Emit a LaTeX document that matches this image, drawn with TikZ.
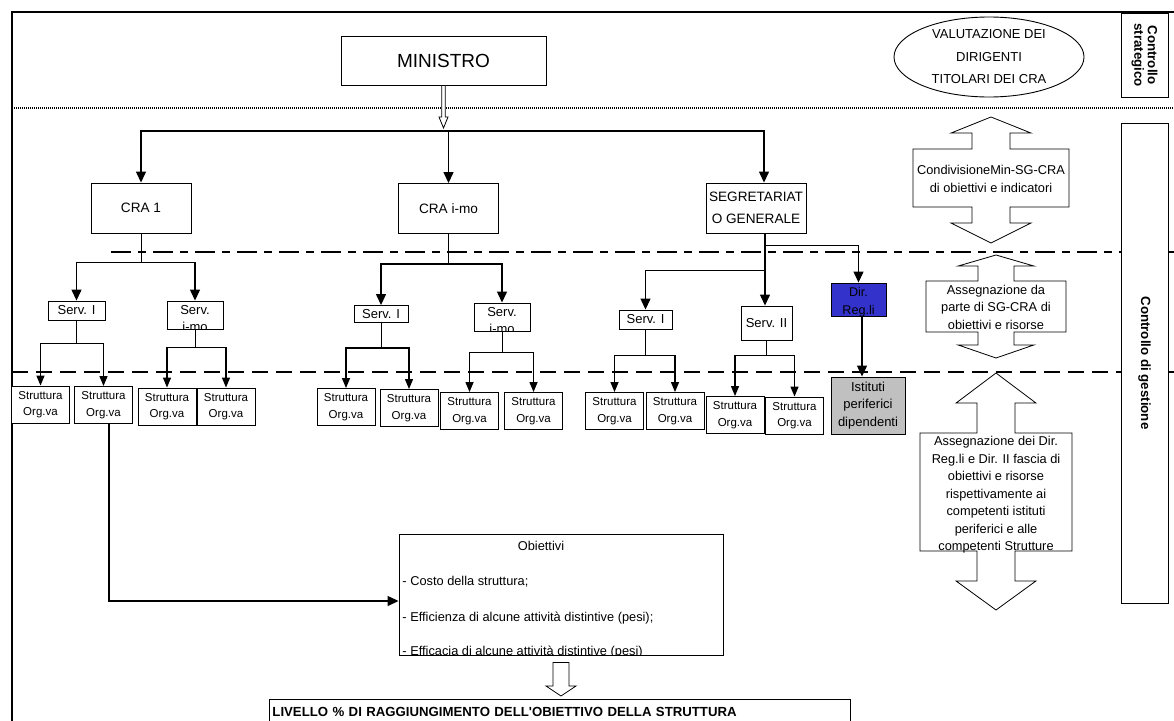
\documentclass[tikz,border=0pt]{standalone}
\usepackage{fontspec}
\setmainfont{Liberation Sans}
\usetikzlibrary{arrows.meta,shapes.geometric,calc}
\definecolor{regblue}{RGB}{51,51,204}
\definecolor{istgray}{RGB}{192,192,192}

\newcommand{\fsz}[2]{\fontsize{#1}{#2}\selectfont}
% hollow arrow pointing down: from, tip, shaft half width, head half width, head length
\newcommand{\hollowdown}[5]{%
  \draw[line width=.8pt,fill=white] let \p1=#1, \p2=#2 in
    (\x1-#3pt,\y1) -- (\x1+#3pt,\y1) -- (\x1+#3pt,\y2+#5pt) -- (\x1+#4pt,\y2+#5pt)
    -- (\x1,\y2) -- (\x1-#4pt,\y2+#5pt) -- (\x1-#3pt,\y2+#5pt) -- cycle;}
% up-down arrow with a box: x, top tip, top wings, box top, box bottom, bottom wings, bottom tip, box half width, shaft half width
\newcommand{\boxarrow}[9]{%
  \draw[line width=.8pt,fill=white]
    (#1,#2) -- ({#1+2.1*#9},#3) -- ({#1+#9},#3) -- ({#1+#9},#4) -- ({#1+#8},#4)
    -- ({#1+#8},#5) -- ({#1+#9},#5) -- ({#1+#9},#6) -- ({#1+2.1*#9},#6) -- (#1,#7)
    -- ({#1-2.1*#9},#6) -- ({#1-#9},#6) -- ({#1-#9},#5) -- ({#1-#8},#5)
    -- ({#1-#8},#4) -- ({#1-#9},#4) -- ({#1-#9},#3) -- ({#1-2.1*#9},#3) -- cycle;}
% truncated text of the Serv. i-mo boxes
\newcommand{\servimo}{%
  \node[cliptext,font=\fsz{13}{16}] at ([yshift=-13.7pt]path picture bounding box.north) {Serv.};
  \node[cliptext,font=\fsz{13}{16}] at ([yshift=-30pt]path picture bounding box.north) {i-mo};}

\begin{document}
\begin{tikzpicture}[x=1pt,y=-1pt,
    box/.style={draw,line width=.9pt,fill=white,inner sep=0pt,align=center},
    cliptext/.style={anchor=base,inner sep=0pt,minimum width=0pt,minimum height=0pt},
    cra/.style={box,minimum width=100pt,minimum height=50pt,font=\fsz{13.6}{21.5}},
    serv/.style={box,font=\fsz{13}{16}},
    strut/.style={box,minimum width=58pt,minimum height=37pt,font=\fsz{11.5}{16.5}},
    arrtext/.style={align=center,font=\fsz{12.8}{17.5}},
    stem/.style={line width=.9pt},
    arr/.style={line width=1.3pt,-{Triangle[length=11pt,width=10pt]}},
    sarr/.style={line width=1.3pt,-{Triangle[length=10pt,width=8pt]}},
    sep/.style={line width=2pt}]
  \useasboundingbox (0,0) rectangle (1174,720);
  \clip (0,0) rectangle (1174,720);

  % frame and separators
  \draw[line width=2.6pt] (12,730) -- (12,12) -- (1180,12);
  \draw[sep,dash pattern=on .8pt off 1.2pt] (12,108) -- (1174,108);
  \draw[sep,dash pattern=on 20pt off 7pt on 8pt off 7pt] (111,252) -- (1174,252);
  \draw[sep,dash pattern=on 16pt off 8pt] (12,372) -- (1174,372);

  % right column
  \node[box,rotate=-90,minimum width=84pt,minimum height=47pt,font=\bfseries\fsz{13.3}{13.5}] (cstrat) at (1144.5,55) {Controllo\\strategico};
  \node[box,rotate=-90,minimum width=480pt,minimum height=47pt,font=\bfseries\fsz{13.3}{14}] (cgest) at (1144.5,363) {Controllo di gestione};
  \node[draw,ellipse,line width=.9pt,inner sep=0pt,minimum width=190pt,minimum height=80pt,align=center,font=\fsz{13}{22.5}] (valut) at (989,57) {VALUTAZIONE DEI\\DIRIGENTI\\TITOLARI DEI CRA};

  \boxarrow{991}{117}{133}{149}{207}{223}{243}{78}{19}
  \node[arrtext,font=\fsz{12.8}{18}] (condiv) at (991,179) {CondivisioneMin-SG-CRA\\di obiettivi e indicatori};
  \boxarrow{996}{255}{266}{281}{332}{345}{358}{70}{18}
  \node[arrtext] (asseg1) at (996,307) {Assegnazione da\\parte di SG-CRA di\\obiettivi e risorse};
  \boxarrow{996}{373}{403}{433}{551}{581}{610}{76}{19}
  \node[arrtext] (asseg2) at (996,495) {Assegnazione dei Dir.\\Reg.li e Dir. II fascia di\\obiettivi e risorse\\rispettivamente ai\\competenti istituti\\periferici e alle\\competenti Strutture};

  % organisation chart
  \node[box,minimum width=205pt,minimum height=49pt,font=\fsz{19}{21}] (min) at (443.5,60.5) {MINISTRO};
  \node[cra] (cra1) at (141,208) {CRA 1};
  \node[cra] (crai) at (448.5,208.5) {CRA i-mo};
  \node[cra] (sg) at (756,208) {SEGRETARIAT\\O GENERALE};

  \node[serv,minimum width=57pt,minimum height=19pt] (sv1a) at (76.5,310.5) {Serv. I};
  \node[serv,minimum width=56pt,minimum height=28pt,path picture={\servimo}] (sv1b) at (195,315) {};
  \node[serv,minimum width=54pt,minimum height=17pt] (sv2a) at (381,314) {Serv. I};
  \node[serv,minimum width=56pt,minimum height=28pt,path picture={\servimo}] (sv2b) at (502,317) {};
  \node[serv,minimum width=53pt,minimum height=19pt] (sv3a) at (645.5,319.5) {Serv. I};
  \node[serv,minimum width=51pt,minimum height=34pt] (sv3b) at (766.5,323) {Serv. II};
  \node[box,fill=regblue,minimum width=55pt,minimum height=33pt,path picture={
      \node[cliptext,font=\fsz{12.6}{14}] at ([yshift=-13pt]path picture bounding box.north) {Dir.};
      \node[cliptext,font=\fsz{12.6}{14}] at ([yshift=-31.5pt]path picture bounding box.north) {Reg.li};}] (dirreg) at (858.5,299.5) {};
  \node[box,fill=istgray,minimum width=74pt,minimum height=57pt,font=\fsz{13}{17.5}] (ist) at (868,405.5) {Istituti\\periferici\\dipendenti};

  \node[strut] (st11) at (40.5,404.5) {Struttura\\Org.va};
  \node[strut] (st12) at (103.5,405) {Struttura\\Org.va};
  \node[strut] (st13) at (167,406.5) {Struttura\\Org.va};
  \node[strut] (st14) at (226,406.5) {Struttura\\Org.va};
  \node[strut] (st21) at (346,407) {Struttura\\Org.va};
  \node[strut] (st22) at (409,408) {Struttura\\Org.va};
  \node[strut] (st23) at (469.5,411) {Struttura\\Org.va};
  \node[strut] (st24) at (533.5,411) {Struttura\\Org.va};
  \node[strut] (st31) at (614.5,411) {Struttura\\Org.va};
  \node[strut] (st32) at (675,411) {Struttura\\Org.va};
  \node[strut] (st33) at (735,415) {Struttura\\Org.va};
  \node[strut] (st34) at (794.5,415.5) {Struttura\\Org.va};

  \node[box,minimum width=324pt,minimum height=121pt,path picture={
      \node[cliptext,font=\fsz{12.8}{14}] at ([xshift=142pt,yshift=-16pt]path picture bounding box.north west) {Obiettivi};
      \node[cliptext,anchor=base west,font=\fsz{12.8}{14}] at ([xshift=3pt,yshift=-51pt]path picture bounding box.north west) {- Costo della struttura;};
      \node[cliptext,anchor=base west,font=\fsz{12.8}{14}] at ([xshift=3pt,yshift=-87pt]path picture bounding box.north west) {- Efficienza di alcune attività distintive (pesi);};
      \node[cliptext,anchor=base west,font=\fsz{12.8}{14}] at ([xshift=3pt,yshift=-121pt]path picture bounding box.north west) {- Efficacia di alcune attività distintive (pesi)};}] (obj) at (561,594.5) {};
  \node[box,anchor=north west,minimum height=24pt,text width=575pt,inner xsep=3pt,align=left,font=\bfseries\fsz{13.2}{14}] (liv) at (269,699) {LIVELLO \% DI RAGGIUNGIMENTO DELL\textquotesingle OBIETTIVO DELLA STRUTTURA};

  % connectors
  \coordinate (bus) at (445,131);
  \hollowdown{(min.south)}{([yshift=3pt]bus)}{1.8}{4.5}{11}
  \draw[arr] (bus) -| (cra1.north);
  \draw[arr] (bus) -| (crai.north);
  \draw[arr] (bus) -| ([xshift=8pt]sg.north);

  \draw[stem] (cra1.south) -- ++(0,29) coordinate (j1);
  \draw[arr] (j1) -| (sv1a.north);
  \draw[arr] (j1) -| (sv1b.north);
  \draw[stem] (crai.south) -- ++(0,30) coordinate (j2);
  \draw[arr] (j2) -| (sv2a.north);
  \draw[arr] (j2) -| (sv2b.north);
  \draw[arr] ([xshift=9pt]sg.south) -- ([xshift=9pt]sg.south |- sv3b.north);
  \draw[arr] ([xshift=9pt,yshift=-12pt]sg.south) -| (dirreg.north);
  \draw[arr] ([xshift=9pt,yshift=-37pt]sg.south) -| (sv3a.north);
  \draw[arr] ([xshift=3.5pt]dirreg.south) -- ([xshift=3.5pt]dirreg.south |- ist.north);

  \draw[stem] (sv1a.south) -- ++(0,23) coordinate (j11);
  \draw[sarr] (j11) -| (st11.north);
  \draw[sarr] (j11) -| (st12.north);
  \draw[stem] (sv1b.south) -- ++(0,18) coordinate (j12);
  \draw[sarr] (j12) -| (st13.north);
  \draw[sarr] (j12) -| (st14.north);
  \draw[stem] (sv2a.south) -- ++(0,25) coordinate (j21);
  \draw[sarr] (j21) -| (st21.north);
  \draw[sarr] (j21) -| (st22.north);
  \draw[stem] (sv2b.south) -- ++(0,21) coordinate (j22);
  \draw[sarr] (j22) -| (st23.north);
  \draw[sarr] (j22) -| (st24.north);
  \draw[stem] (sv3a.south) -- ++(0,26) coordinate (j31);
  \draw[sarr] (j31) -| (st31.north);
  \draw[sarr] (j31) -| (st32.north);
  \draw[stem] (sv3b.south) -- ++(0,15) coordinate (j32);
  \draw[sarr] (j32) -| (st33.north);
  \draw[sarr] (j32) -| (st34.north);

  \draw[arr] ([xshift=5.5pt]st12.south) |- ([yshift=-6.5pt]obj.west);
  \hollowdown{([yshift=-7pt]obj.south)}{($(liv.north -| obj.south)+(0,-3)$)}{8}{15}{10}
\end{tikzpicture}
\end{document}
